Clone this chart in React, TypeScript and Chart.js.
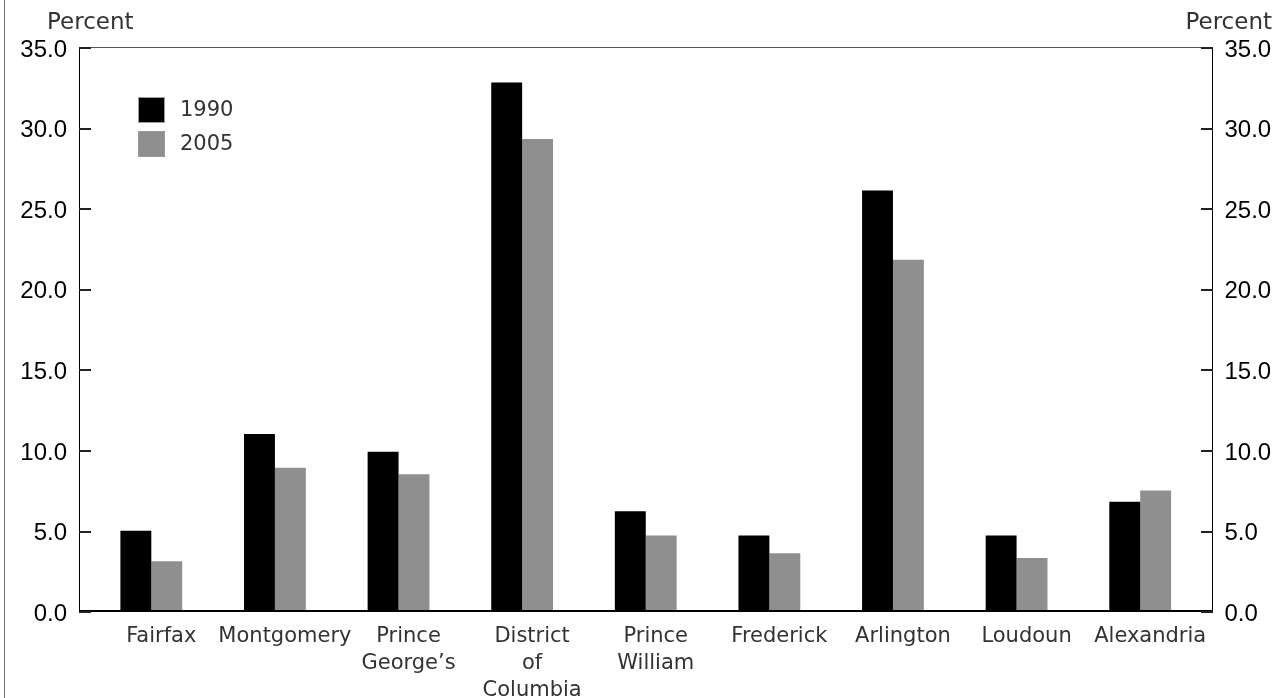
import React, { useEffect, useRef } from 'react';
import { Chart, registerables } from 'chart.js';

Chart.register(...registerables);

const categories: string[][] = [
  ['Fairfax'],
  ['Montgomery'],
  ['Prince', 'George’s'],
  ['District', 'of', 'Columbia'],
  ['Prince', 'William'],
  ['Frederick'],
  ['Arlington'],
  ['Loudoun'],
  ['Alexandria'],
];
const values1990 = [5.0, 11.0, 9.9, 32.8, 6.2, 4.7, 26.1, 4.7, 6.8];
const values2005 = [3.1, 8.9, 8.5, 29.3, 4.7, 3.6, 21.8, 3.3, 7.5];
const seriesLabels = ['1990', '2005'];
const seriesColors = ['#000000', '#8f8f8f'];
const yMin = 0;
const yMax = 35;
const yStep = 5;
const yTickValues = [0, 5, 10, 15, 20, 25, 30, 35];
const axisTitle = 'Percent';

const GOTHIC = '"DejaVu Sans", sans-serif';
const NUM = '"Liberation Sans", Arial, sans-serif';
const TICK_LEN = 11;

const framePlugin = {
  id: 'framePlugin',
  beforeDraw(chart: any) {
    const ctx = chart.ctx;
    ctx.save();
    ctx.fillStyle = '#777777';
    ctx.fillRect(4, 0, 1, chart.height);
    ctx.restore();
  },
  afterDraw(chart: any) {
    const ctx = chart.ctx;
    const area = chart.chartArea;
    const y = chart.scales.y;
    const top = Math.round(y.getPixelForValue(yMax));
    const bottom = Math.round(y.getPixelForValue(yMin));
    const left = Math.round(area.left - TICK_LEN);
    const right = Math.round(area.right + TICK_LEN);
    ctx.save();
    // frame
    ctx.fillStyle = '#000000';
    ctx.fillRect(left, top, 1, bottom - top + 1);
    ctx.fillRect(right - 1, top, 1, bottom - top + 1);
    ctx.fillStyle = '#555555';
    ctx.fillRect(left, top, right - left, 1);
    ctx.fillStyle = '#000000';
    ctx.fillRect(left, bottom - 1, right - left, 2);
    // inward tick marks on both value axes, placed by the y scale
    ctx.fillStyle = '#222222';
    for (let i = 0; i < yTickValues.length; i++) {
      const py = Math.round(y.getPixelForValue(yTickValues[i]));
      ctx.fillRect(left, py, TICK_LEN + 1, 2);
      ctx.fillRect(right - TICK_LEN - 1, py, TICK_LEN + 1, 2);
    }

    // axis titles
    ctx.fillStyle = '#333333';
    ctx.font = `23px ${GOTHIC}`;
    ctx.textBaseline = 'alphabetic';
    ctx.textAlign = 'left';
    ctx.fillText(axisTitle, 47, 29);
    ctx.textAlign = 'right';
    ctx.fillText(axisTitle, 1272, 29);

    // legend
    const lx = Math.round(area.left + 48.5);
    const ly = Math.round(area.top + 50);
    const boxW = 27;
    const boxH = 26;
    const gap = 34;
    chart.data.datasets.forEach((ds: any, i: number) => {
      const by = ly + i * gap;
      ctx.fillStyle = ds.backgroundColor;
      ctx.fillRect(lx, by, boxW, boxH);
      ctx.strokeStyle = '#9a9a9a';
      ctx.lineWidth = 1;
      ctx.strokeRect(lx + 0.5, by + 0.5, boxW - 1, boxH - 1);
      ctx.fillStyle = '#333333';
      ctx.font = `21px ${GOTHIC}`;
      ctx.textAlign = 'left';
      ctx.textBaseline = 'middle';
      ctx.fillText(ds.label, lx + 42, by + boxH / 2 + 1);
    });
    ctx.restore();
  },
};

export default function App() {
  const canvasRef = useRef<HTMLCanvasElement | null>(null);

  useEffect(() => {
    if (!canvasRef.current) return;
    const yTicks = {
      stepSize: yStep,
      color: '#000000',
      padding: 22.5,
      labelOffset: 3,
      font: { family: NUM, size: 24 },
      callback: (v: any) => Number(v).toFixed(1),
    };
    const chart = new Chart(canvasRef.current, {
      type: 'bar',
      data: {
        labels: categories,
        datasets: [
          {
            label: seriesLabels[0],
            data: values1990,
            backgroundColor: seriesColors[0],
            borderWidth: 0,
            yAxisID: 'y',
          },
          {
            label: seriesLabels[1],
            data: values2005,
            backgroundColor: seriesColors[1],
            borderWidth: 0,
            yAxisID: 'y',
          },
        ],
      },
      options: {
        responsive: false,
        animation: false,
        layout: { padding: { top: 47, left: 0, right: 0, bottom: 0 } },
        plugins: {
          legend: { display: false },
          tooltip: { enabled: false },
          title: { display: false },
        },
        datasets: {
          bar: { categoryPercentage: 0.5, barPercentage: 1.0 },
        },
        scales: {
          x: {
            type: 'category',
            grid: { display: false, drawTicks: false },
            border: { display: false },
            ticks: {
              color: '#333333',
              padding: 12,
              maxRotation: 0,
              autoSkip: false,
              labelOffset: 10,
              font: { family: GOTHIC, size: 21, lineHeight: 1.29 },
            },
            afterFit: (scale: any) => {
              scale.height = 86.7;
            },
          },
          y: {
            type: 'linear',
            position: 'left',
            min: yMin,
            max: yMax,
            grid: { display: false, drawTicks: false },
            border: { display: false },
            ticks: yTicks,
            afterFit: (scale: any) => {
              scale.width = 89.5;
            },
          },
          y2: {
            type: 'linear',
            position: 'right',
            min: yMin,
            max: yMax,
            grid: { display: false, drawTicks: false },
            border: { display: false },
            ticks: yTicks,
            afterFit: (scale: any) => {
              scale.width = 82;
            },
          },
        },
      } as any,
      plugins: [framePlugin],
    });
    return () => chart.destroy();
  }, []);

  return (
    <div style={{ position: 'fixed', left: 0, top: 0, width: 1284, height: 698, background: '#ffffff' }}>
      <canvas ref={canvasRef} width={1284} height={698} style={{ display: 'block', width: 1284, height: 698 }} />
    </div>
  );
}
